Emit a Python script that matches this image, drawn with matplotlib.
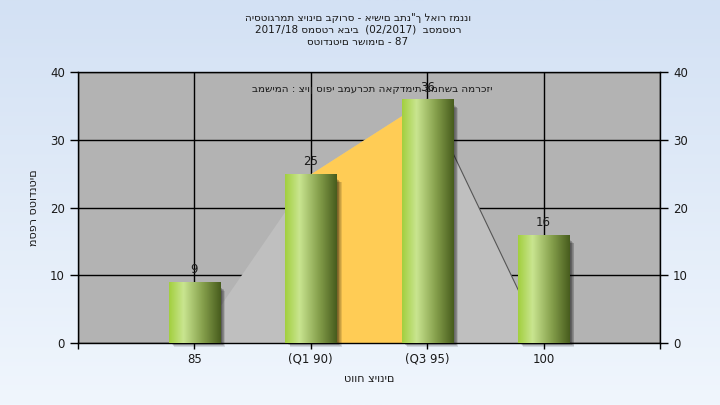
import numpy as np
import matplotlib
matplotlib.use("Agg")
import matplotlib.pyplot as plt
from matplotlib.colors import LinearSegmentedColormap
from matplotlib.patches import Rectangle

plt.rcParams['font.family'] = ['DejaVu Sans']

# data
categories = ['85', '(Q1 90)', '(Q3 95)', '100']
counts = [9, 25, 36, 16]
curve = [0, 25, 36, 0]          # light grey background area
iqr_idx = [1, 2]                # orange band between Q1 and Q3
title_lines = ['היסטוגרמת ציונים בקורס - אישים בתנ"ך לאור זמננו',
               '2017/18 סמסטר אביב  (02/2017)  בסמסטר',
               'סטודנטים רשומים - 87']
note = 'במשימה : ציון סופי במערכת האקדמית במחשב המרכזי'
xlabel = 'טווח ציונים'
ylabel = 'מספר סטודנטים'

x = np.arange(len(categories))
txt = '#1a1a1a'

fig = plt.figure(figsize=(7.2, 4.05), dpi=100)

# background gradient of the whole figure
bg = fig.add_axes([0, 0, 1, 1], zorder=-10)
grad = np.linspace(0, 1, 256)[:, None]
bgmap = LinearSegmentedColormap.from_list('bg', ['#d3e1f4', '#f0f6fd'])
bg.imshow(grad, aspect='auto', cmap=bgmap, extent=[0, 1, 0, 1])
bg.axis('off')

ax = fig.add_axes([0.1083, 0.1531, 0.8083, 0.669])
ax.set_facecolor('#b3b3b3')
ax.set_xlim(-1, 4)
ax.set_ylim(0, 40)
ax.set_yticks([0, 10, 20, 30, 40])
ax.set_xticks([-1, 0, 1, 2, 3, 4])
ax.set_xticklabels([''] + categories + [''])
ax.grid(True, color='black', lw=1, zorder=0)
ax.set_axisbelow(True)
ax.tick_params(axis='both', colors='black', labelcolor=txt, labelsize=8.5,
               length=6, width=1, direction='out')
ax.tick_params(axis='x', length=4, pad=3)
for s in ax.spines.values():
    s.set_color('black')
    s.set_linewidth(1)

# grey area + orange IQR band
ax.fill_between(x, curve, 0, color='#bfbfbf', lw=0, zorder=1)
xi = x[iqr_idx[0]:iqr_idx[1] + 1]
ax.fill_between(xi, np.array(curve)[iqr_idx[0]:iqr_idx[1] + 1], 0,
                color='#ffcc55', lw=0, zorder=1.5)
ax.plot(x[2:4], curve[2:4], color='#555555', lw=0.8, zorder=1.6)

# bars with shadow and cylinder-like gradient
w = 0.44
bars = ax.bar(x, counts, width=w, color='none', lw=0, zorder=3)
px = 5.0 / 582
py = 40.0 / 271
cmap = LinearSegmentedColormap.from_list(
    'bar', [(0, '#a2cf3e'), (0.28, '#c9e590'), (0.65, '#86a04c'), (1, '#475c1d')])
row = np.linspace(0, 1, 256)[None, :]
for b in bars:
    x0, h = b.get_x(), b.get_height()
    for k in range(1, 7):
        ax.add_patch(Rectangle((x0 + 1 * px + k * px * 0.7, -k * py * 0.6),
                               w, h - 5 * py, facecolor='black', alpha=0.11,
                               lw=0, zorder=2, clip_on=False))
    im = ax.imshow(row, aspect='auto', cmap=cmap, extent=[x0, x0 + w, 0, h],
                   zorder=3, interpolation='bilinear')
    im.set_clip_path(b)
    ax.annotate(str(int(h)), (x0 + w / 2, h), xytext=(0, 4),
                textcoords='offset points', ha='center', va='bottom',
                fontsize=8.5, color=txt, zorder=5)
ax.set_xlim(-1, 4)
ax.set_ylim(0, 40)

# right axis
ax2 = ax.twinx()
ax2.set_ylim(0, 40)
ax2.set_yticks([0, 10, 20, 30, 40])
ax2.tick_params(axis='y', labelcolor=txt, labelsize=8.5, length=6, width=1)
for s in ax2.spines.values():
    s.set_visible(False)

ax.text(0.505, 0.955, note, transform=ax.transAxes, ha='center', va='top',
        fontsize=7.5, color=txt, zorder=6)
ax.set_xlabel(xlabel, fontsize=8, color=txt, labelpad=6)
ax.set_ylabel(ylabel, fontsize=8, color=txt, labelpad=8)

for i, line in enumerate(title_lines):
    fig.text(0.497, 1 - (18 + 12 * i) / 405, line, ha='center', va='center',
             fontsize=7.5, color=txt)

fig.savefig('out.png', dpi=100)
